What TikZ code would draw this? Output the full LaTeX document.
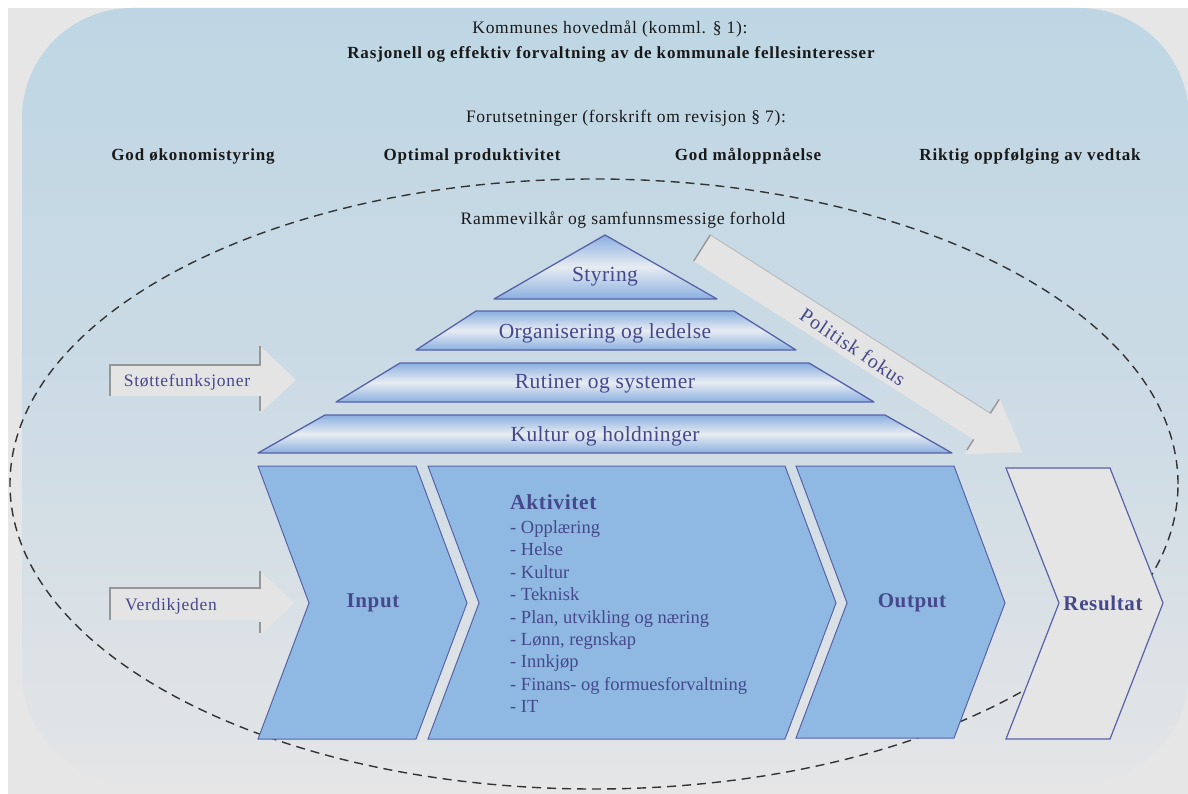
\documentclass[tikz,border=0pt]{standalone}
\usepackage{fontspec}
\setmainfont{Liberation Serif}
% letter-spaced cuts of the serif face
\newfontfamily\hdrfont{Liberation Serif}[LetterSpace=4]
\newfontfamily\hdrbfont{Liberation Serif}[LetterSpace=5]
\newfontfamily\layerfont{Liberation Serif}[LetterSpace=2]
\newfontfamily\chevfont{Liberation Serif}[LetterSpace=3]
\newfontfamily\arrowfont{Liberation Serif}[LetterSpace=4]
\newfontfamily\politfont{Liberation Serif}[LetterSpace=5]
\usetikzlibrary{calc}

\definecolor{txtblue}{RGB}{70,72,140}
\definecolor{edgeblue}{RGB}{88,98,168}
\definecolor{chevfill}{RGB}{143,185,227}
\definecolor{resfill}{RGB}{229,229,229}
\definecolor{layerblue}{RGB}{138,176,224}
\definecolor{layerlight}{RGB}{232,236,242}
\definecolor{arrowfill}{RGB}{228,228,228}
\definecolor{arrowedge}{RGB}{150,150,150}
\definecolor{bgtop}{RGB}{190,214,228}
\definecolor{bgmid}{RGB}{204,219,229}
\definecolor{bgbot}{RGB}{228,229,230}
\definecolor{outergray}{RGB}{230,230,230}
\definecolor{hdrtext}{RGB}{25,25,25}

\begin{document}
\begin{tikzpicture}[x=1pt,y=-1pt,
  hdr/.style={text=hdrtext, font=\hdrfont\fontsize{17.5}{20}\selectfont, inner sep=0pt},
  hdrb/.style={text=hdrtext, font=\hdrbfont\bfseries\fontsize{17}{20}\selectfont, inner sep=0pt},
  layer/.style={draw=edgeblue, line width=1.3pt, line join=round,
    top color=layerblue, bottom color=layerblue, middle color=layerlight},
  layerlbl/.style={text=txtblue, font=\layerfont\fontsize{21.5}{24}\selectfont, inner sep=0pt},
  chev/.style={draw=edgeblue, line width=1pt, fill=chevfill},
  reschev/.style={draw=edgeblue, line width=1.2pt, fill=resfill},
  chevlbl/.style={text=txtblue, font=\chevfont\bfseries\fontsize{21}{24}\selectfont, inner sep=0pt},
  item/.style={text=txtblue, font=\fontsize{18.5}{22}\selectfont, inner sep=0pt, anchor=base west},
  blockarrow/.style={fill=arrowfill},
  shadowedge/.style={draw=arrowedge, line width=1.4pt},
  arrowlbl/.style={text=txtblue, font=\arrowfont\fontsize{17.5}{20}\selectfont, inner sep=0pt},
  frameline/.style={draw=black!80, line width=1.4pt, dash pattern=on 9pt off 6pt}
]
\useasboundingbox (0,0) rectangle (1188,794);

% page background and the rounded panel
\fill[white] (0,0) rectangle (1188,794);
\fill[outergray] (8,8) rectangle (1188,794);
\shade[top color=bgtop, bottom color=bgbot, middle color=bgmid, rounded corners=110pt]
  (22,8) rectangle (1189,783);

% headings
\node[hdr]  (goal)  at (610,29)  {Kommunes hovedmål (komml. § 1):};
\node[hdrb] (goalb) at (611,54)  {Rasjonell og effektiv forvaltning av de kommunale fellesinteresser};
\node[hdr]  (prem)  at (626,118) {Forutsetninger (forskrift om revisjon § 7):};
\node[hdrb] (p1) at (193,156)  {God økonomistyring};
\node[hdrb] (p2) at (472,156)  {Optimal produktivitet};
\node[hdrb] (p3) at (748,156)  {God måloppnåelse};
\node[hdrb] (p4) at (1030,156) {Riktig oppfølging av vedtak};

% dashed frame of framework conditions
\draw[frameline] (594,484) ellipse [x radius=584pt, y radius=305pt];
\node[hdr] (frame) at (623,220) {Rammevilkår og samfunnsmessige forhold};

% pyramid
\path[layer] (605,235) -- (717,299) -- (494,299) -- cycle;
\node[layerlbl] (styring) at (605,277) {Styring};
\path[layer] (476,311) -- (734,311) -- (796,350) -- (416,350) -- cycle;
\node[layerlbl] (org) at (605,333) {Organisering og ledelse};
\path[layer] (400,363) -- (809,363) -- (874,402) -- (336,402) -- cycle;
\node[layerlbl] (rut) at (605,384) {Rutiner og systemer};
\path[layer] (325,415) -- (885,415) -- (952,453) -- (258,453) -- cycle;
\node[layerlbl] (kul) at (605,436) {Kultur og holdninger};

% value chain
\path[chev] (258,466) -- (416,466) -- (467,603) -- (416,739) -- (258,739) -- (309,603) -- cycle;
\node[chevlbl] (input) at (373,603) {Input};
\path[chev] (428,466) -- (785,466) -- (836,603) -- (785,739) -- (428,739) -- (479,603) -- cycle;
\node[text=txtblue, font=\chevfont\bfseries\fontsize{21.5}{24}\selectfont, inner sep=0pt, anchor=base west]
  (akt) at (510,509) {Aktivitet};
\foreach \t [count=\i] in {- Opplæring, - Helse, - Kultur, - Teknisk,
    {- Plan, utvikling og næring}, {- Lønn, regnskap}, - Innkjøp,
    - Finans- og formuesforvaltning, - IT}
  \node[item] (item\i) at (510,511+22.4*\i) {\t};
\path[chev] (796,466) -- (954,466) -- (1005,603) -- (954,738) -- (796,738) -- (847,603) -- cycle;
\node[chevlbl] (output) at (912,603) {Output};
\path[reschev] (1006,468) -- (1110,468) -- (1163,603) -- (1110,739) -- (1006,739) -- (1059,603) -- cycle;
\node[chevlbl] (result) at (1103,603) {Resultat};

% support functions arrow
\path[blockarrow] (110,365) -- (260,365) -- (260,346) -- (296,380) -- (260,413) -- (260,396) -- (110,396) -- cycle;
\draw[shadowedge] (110,396) -- (110,365) -- (260,365) -- (260,346);
\draw[shadowedge] (260,396) -- (260,411);
\node[arrowlbl] (stotte) at (187,382) {Støttefunksjoner};

% value chain arrow
\path[blockarrow] (110,588) -- (260,588) -- (260,571) -- (294,603) -- (260,635) -- (260,620) -- (110,620) -- cycle;
\draw[shadowedge] (110,620) -- (110,588) -- (260,588) -- (260,571);
\draw[shadowedge] (260,622) -- (260,633);
\node[arrowlbl] (verdi) at (171,606) {Verdikjeden};

% political focus arrow
\begin{scope}[shift={(702,248)}, rotate=-32.5]
  \path[blockarrow] (0,-15.5) -- (332,-15.5) -- (332,-33) -- (380,0) -- (332,33) -- (332,15.5) -- (0,15.5) -- cycle;
  \draw[shadowedge] (0,15.5) -- (0,-15.5);
  \draw[draw=arrowedge!70, line width=0.8pt] (0,-15.5) -- (332,-15.5);
  \draw[shadowedge] (332,-15.5) -- (332,-32);
  \draw[shadowedge] (332,15.5) -- (332,28);
\end{scope}
\node[text=txtblue, font=\politfont\fontsize{20}{22}\selectfont, inner sep=0pt, rotate=-34]
  (polit) at (853,347) {Politisk fokus};

\end{tikzpicture}
\end{document}
